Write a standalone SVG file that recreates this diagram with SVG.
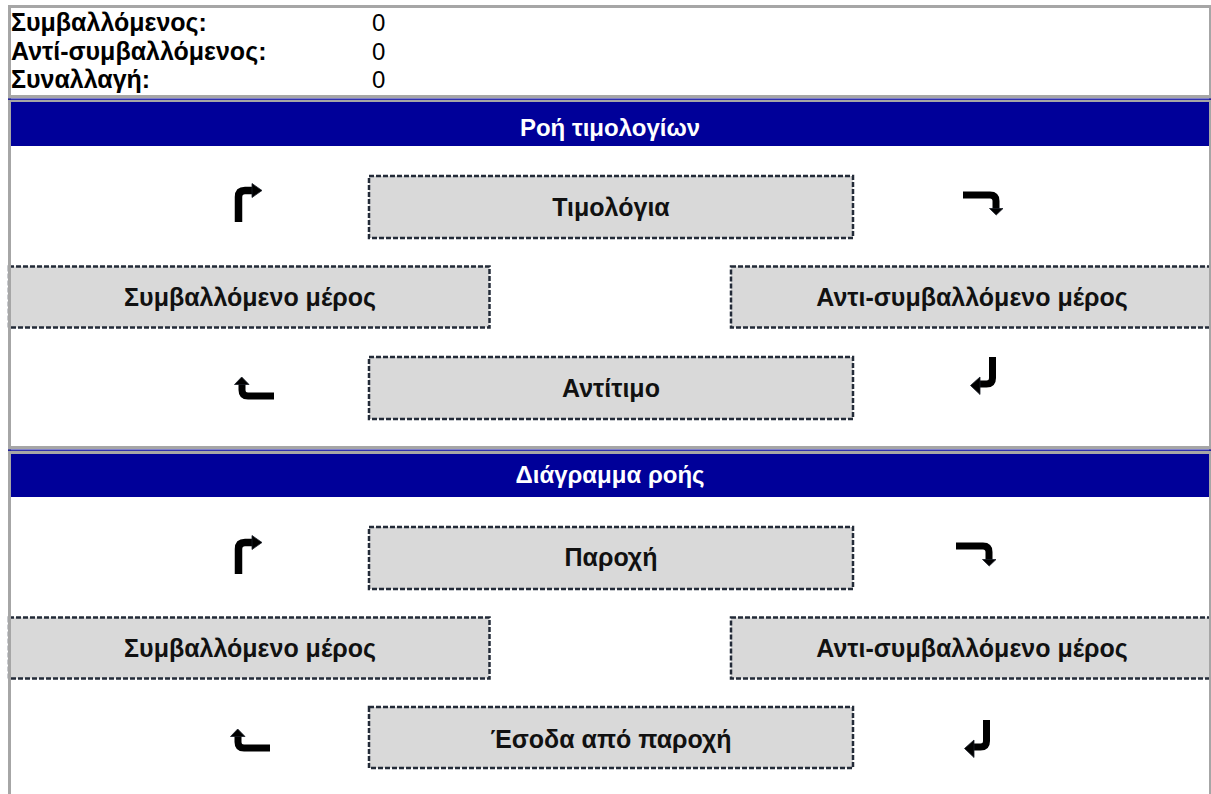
<svg xmlns="http://www.w3.org/2000/svg" width="1211" height="794" viewBox="0 0 1211 794">
<style>
  .grid{fill:#a6a6a6}
  .blue{fill:#000099}
  .box{fill:#d9d9d9;stroke:#232b38;stroke-width:2.5;stroke-dasharray:5 2}
  .lbl{font-family:"Liberation Sans",Arial,sans-serif;font-weight:bold;font-size:25px;fill:#111;text-anchor:middle}
  .hdr{font-family:"Liberation Sans",Arial,sans-serif;font-weight:bold;font-size:24px;fill:#fff;text-anchor:middle}
  .key{font-family:"Liberation Sans",Arial,sans-serif;font-weight:bold;font-size:25px;fill:#000}
  .val{font-family:"Liberation Sans",Arial,sans-serif;font-size:24px;fill:#000}
  .arr{fill:none;stroke:#000;stroke-width:6.5;stroke-linejoin:round}
  .head{fill:#000;stroke:#1a1f2a;stroke-width:0.8}
</style>
<rect width="1211" height="794" fill="#fff"/>

<g id="info">
  <text class="key" x="11" y="31">Συμβαλλόμενος:</text>
  <text class="key" x="11" y="59.5">Αντί-συμβαλλόμενος:</text>
  <text class="key" x="11" y="88">Συναλλαγή:</text>
  <text class="val" x="372" y="31">0</text>
  <text class="val" x="372" y="59.5">0</text>
  <text class="val" x="372" y="88">0</text>
</g>

<g id="header1">
  <rect class="blue" x="11" y="102" width="1199" height="44"/>
  <text class="hdr" x="610" y="136">Ροή τιμολογίων</text>
</g>
<g id="header2">
  <rect class="blue" x="11" y="454" width="1199" height="43"/>
  <text class="hdr" x="610" y="483">Διάγραμμα ροής</text>
</g>

<g id="invoices">
  <rect class="box" x="369" y="176" width="484" height="62"/>
  <text class="lbl" x="611" y="216">Τιμολόγια</text>
</g>
<g id="party1">
  <rect class="box" x="9" y="266.5" width="480.5" height="61"/>
  <text class="lbl" x="250" y="306">Συμβαλλόμενο μέρος</text>
</g>
<g id="counterparty1">
  <rect class="box" x="731" y="266.5" width="482" height="61"/>
  <text class="lbl" x="972" y="306">Αντι-συμβαλλόμενο μέρος</text>
</g>
<g id="price">
  <rect class="box" x="369" y="357" width="484" height="62"/>
  <text class="lbl" x="611" y="397">Αντίτιμο</text>
</g>

<g id="supply">
  <rect class="box" x="369" y="527" width="484" height="62"/>
  <text class="lbl" x="611" y="566">Παροχή</text>
</g>
<g id="party2">
  <rect class="box" x="9" y="617.5" width="480.5" height="61"/>
  <text class="lbl" x="250" y="657">Συμβαλλόμενο μέρος</text>
</g>
<g id="counterparty2">
  <rect class="box" x="731" y="617.5" width="482" height="61"/>
  <text class="lbl" x="972" y="657">Αντι-συμβαλλόμενο μέρος</text>
</g>
<g id="revenue">
  <rect class="box" x="369" y="707" width="484" height="61"/>
  <text class="lbl" x="611" y="748">Έσοδα από παροχή</text>
</g>

<g id="connectors">
  <!-- section 1 -->
  <path class="arr" d="M238.5 222 V197 Q238.5 190.5 245 190.5 H253" style="stroke-width:7.5"/>
  <polygon class="head" points="252,183.5 262,190.5 252,197.5"/>
  <path class="arr" d="M963 195 H990 Q996 195 996 201 V209" style="stroke-width:7"/>
  <polygon class="head" points="989.5,208.5 1003,208.5 996.2,215"/>
  <path class="arr" d="M242 384 V390 Q242 396 248 396 H274" style="stroke-width:7"/>
  <polygon class="head" points="234.5,384.5 249,384.5 241.7,377"/>
  <path class="arr" d="M992.5 357 V378 Q992.5 384 986.5 384 H979" style="stroke-width:7"/>
  <polygon class="head" points="980,377 970.5,385.5 980,394.5"/>
  <!-- section 2 -->
  <path class="arr" d="M238.5 574 V549 Q238.5 542.5 245 542.5 H253" style="stroke-width:7.5"/>
  <polygon class="head" points="252,535.5 262,542.5 252,549.5"/>
  <path class="arr" d="M956 546 H983 Q989 546 989 552 V560" style="stroke-width:7"/>
  <polygon class="head" points="982.5,559.5 996,559.5 989.2,566"/>
  <path class="arr" d="M238 736 V742 Q238 748 244 748 H270" style="stroke-width:7"/>
  <polygon class="head" points="230.5,736.5 245,736.5 237.7,729"/>
  <path class="arr" d="M986.5 720 V741 Q986.5 747 980.5 747 H973" style="stroke-width:7"/>
  <polygon class="head" points="974,740 964.5,748.5 974,757.5"/>
</g>

<g id="gridlines">
  <rect class="grid" x="8" y="5" width="1203" height="3"/>
  <rect class="grid" x="8" y="5" width="3" height="789"/>
  <rect class="grid" x="1209" y="5" width="2" height="789"/>
  <rect class="grid" x="8" y="95" width="1203" height="3"/>
  <rect class="blue" x="8" y="98.5" width="1203" height="1.3"/>
  <rect class="grid" x="8" y="100" width="1203" height="2"/>
  <rect class="grid" x="8" y="446" width="1203" height="3"/>
  <rect class="blue" x="8" y="449.5" width="1203" height="1.3"/>
  <rect class="grid" x="8" y="451" width="1203" height="3"/>
</g>
</svg>
